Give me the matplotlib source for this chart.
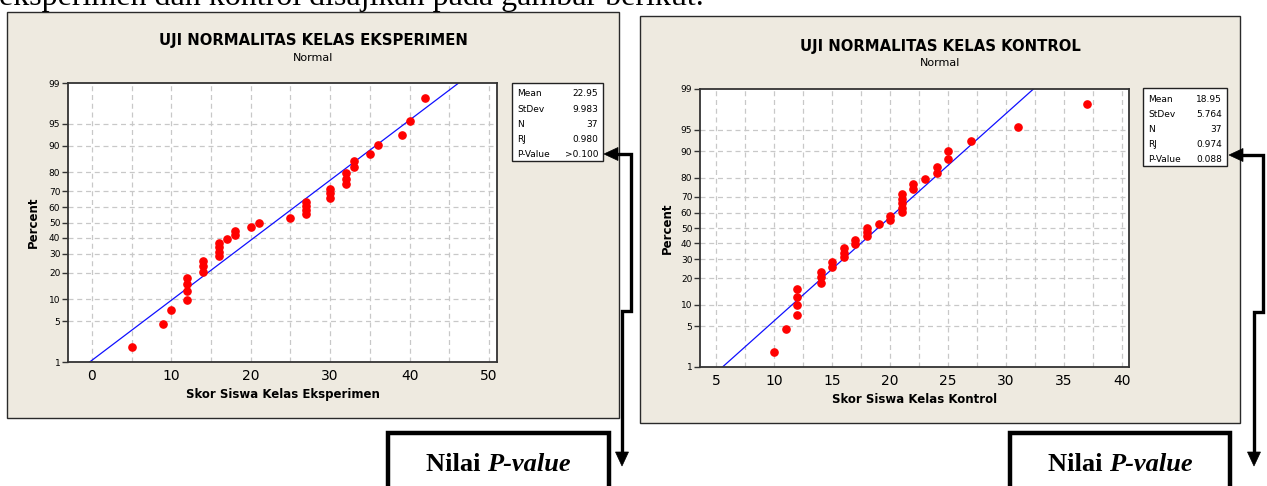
import matplotlib
matplotlib.use('Agg')
import matplotlib.pyplot as plt
from matplotlib.patches import Rectangle, Polygon
from statistics import NormalDist

W, H = 1267, 486
nd = NormalDist()

# ---------------- data ----------------
eks_scores = [5, 9, 10, 12, 12, 12, 12, 14, 14, 14, 16, 16, 16, 16, 17, 18, 18,
              20, 21, 25, 27, 27, 27, 27, 30, 30, 30, 32, 32, 32, 33, 33, 35,
              36, 39, 40, 42]
kon_scores = [10, 11, 12, 12, 12, 12, 14, 14, 14, 15, 15, 16, 16, 16, 17, 17,
              18, 18, 18, 19, 20, 20, 21, 21, 21, 21, 21, 22, 22, 23, 24, 24,
              25, 25, 27, 31, 37]
eks_mean, eks_sd = 22.95, 9.983
kon_mean, kon_sd = 18.95, 5.764
stat_names = ["Mean", "StDev", "N", "RJ", "P-Value"]
eks_stats = ["22.95", "9.983", "37", "0.980", ">0.100"]
kon_stats = ["18.95", "5.764", "37", "0.974", "0.088"]
pct_ticks = [1, 5, 10, 20, 30, 40, 50, 60, 70, 80, 90, 95, 99]
eks_xticks = [0, 10, 20, 30, 40, 50]
kon_xticks = [5, 10, 15, 20, 25, 30, 35, 40]

BG = '#EEEAE0'
fig = plt.figure(figsize=(W / 100, H / 100), dpi=100)
bg = fig.add_axes([0, 0, 1, 1])
bg.set_xlim(0, W)
bg.set_ylim(H, 0)
bg.axis('off')

def fbox(x0, y0, x1, y1):
    return [x0 / W, 1 - y1 / H, (x1 - x0) / W, (y1 - y0) / H]

# top sentence (cut off by the page edge, as in the reference)
bg.text(-1, 5, "eksperimen dan kontrol disajikan pada gambar berikut.",
        family='Liberation Serif', fontsize=23, ha='left', va='baseline')

def z(p):
    return nd.inv_cdf(p / 100.0)

def panel(px0, py0, px1, py1, ax_box, scores, mean, sd, xlim, xticks, minor,
          title, xlabel, stats, sbox, title_y, xl_y, pc_x):
    bg.add_patch(Rectangle((px0, py0), px1 - px0, py1 - py0, fc=BG,
                           ec='#2a2a2a', lw=1.0))
    cx = (px0 + px1) / 2
    bg.text(cx, title_y, title, ha='center', va='center', fontsize=10.7,
            fontweight='bold', family='DejaVu Sans')
    bg.text(cx, title_y + 17, "Normal", ha='center', va='center', fontsize=8,
            family='DejaVu Sans')
    ax0, ay0, ax1, ay1 = ax_box
    bg.text((ax0 + ax1) / 2, xl_y, xlabel, ha='center', va='center',
            fontsize=8.5, fontweight='bold', family='DejaVu Sans')
    bg.text(pc_x, (ay0 + ay1) / 2, "Percent", ha='center', va='center',
            rotation=90, fontsize=8.5, fontweight='bold', family='DejaVu Sans')

    ax = fig.add_axes(fbox(*ax_box))
    ax.set_facecolor('white')
    n = len(scores)
    pos = [z(100 * (i + 1 - 0.3) / (n + 0.4)) for i in range(n)]
    zlo, zhi = z(1), z(99)
    ax.set_ylim(zlo, zhi)
    ax.set_xlim(*xlim)
    for p in pct_ticks[1:-1]:
        ax.axhline(z(p), color='#c8c8c8', lw=0.9, ls=(0, (4, 3)), zorder=1)
    for xv in minor:
        ax.axvline(xv, color='#c8c8c8', lw=0.9, ls=(0, (4, 3)), zorder=1)
    ax.plot([mean + sd * zlo, mean + sd * zhi], [zlo, zhi], color='#1010ff',
            lw=0.9, zorder=2)
    ax.plot(scores, pos, 'o', color='#ff0000', ms=5.2, mec='#ff0000', zorder=3)
    ax.set_yticks([z(p) for p in pct_ticks])
    ax.set_yticklabels([str(p) for p in pct_ticks])
    ax.set_xticks(xticks)
    ax.tick_params(axis='y', labelsize=6.5, length=4, width=1, pad=1.5,
                   color='#333333')
    ax.tick_params(axis='x', labelsize=10, length=0, pad=5)
    for s in ax.spines.values():
        s.set_color('#333333')
        s.set_linewidth(1.3)

    sx0, sy0, sx1, sy1 = sbox
    bg.add_patch(Rectangle((sx0, sy0), sx1 - sx0, sy1 - sy0, fc='white',
                           ec='#222222', lw=1.0))
    for k, (nm, v) in enumerate(zip(stat_names, stats)):
        yy = sy0 + 11 + 15 * k
        bg.text(sx0 + 5, yy, nm, ha='left', va='center', fontsize=6.5,
                family='DejaVu Sans')
        bg.text(sx1 - 5, yy, v, ha='right', va='center', fontsize=6.5,
                family='DejaVu Sans')
    return ax

panel(7, 12, 619, 418, (68, 83, 497, 362), eks_scores, eks_mean, eks_sd,
      (-3, 51), eks_xticks, [0, 5, 10, 15, 20, 25, 30, 35, 40, 45, 50],
      "UJI NORMALITAS KELAS EKSPERIMEN", "Skor Siswa Kelas Eksperimen",
      eks_stats, (512, 83, 603, 161), 41, 394, 33)

panel(640, 16, 1240, 423, (700, 89, 1129, 367), kon_scores, kon_mean, kon_sd,
      (3.6, 40.6), kon_xticks,
      [5, 7.5, 10, 12.5, 15, 17.5, 20, 22.5, 25, 27.5, 30, 32.5, 35, 37.5, 40],
      "UJI NORMALITAS KELAS KONTROL", "Skor Siswa Kelas Kontrol",
      kon_stats, (1143, 88, 1227, 166), 46, 399, 667)

# ---------- arrows ----------
LW = 2.4
def arrow_path(tipx, tipy, xr, yjog, xdown, ybot):
    bg.plot([tipx + 12, xr, xr, xdown, xdown], [tipy, tipy, yjog, yjog, ybot - 12],
            color='black', lw=LW, solid_joinstyle='miter', solid_capstyle='butt')
    bg.add_patch(Polygon([(tipx, tipy), (tipx + 14, tipy - 6.5),
                          (tipx + 14, tipy + 6.5)], closed=True, fc='black',
                         ec='black', lw=0.5))
    bg.add_patch(Polygon([(xdown, ybot), (xdown - 6.5, ybot - 14),
                          (xdown + 6.5, ybot - 14)], closed=True, fc='black',
                         ec='black', lw=0.5))

arrow_path(604, 154, 631, 311, 622, 466)
arrow_path(1229, 155, 1263, 312, 1254, 466)

# ---------- "Nilai P-value" boxes ----------
for x0, x1 in [(388, 609), (1010, 1230)]:
    bg.add_patch(Rectangle((x0, 433), x1 - x0, 70, fc='white', ec='black',
                           lw=3.2))
    split = (x0 + x1) / 2 - 11
    bg.text(split, 464, "Nilai ", ha='right', va='center',
            family='Liberation Serif', fontsize=19, fontweight='bold')
    bg.text(split, 464, "P-value", ha='left', va='center',
            family='Liberation Serif', fontsize=19, fontweight='bold',
            style='italic')

fig.savefig('out.png', dpi=100)
